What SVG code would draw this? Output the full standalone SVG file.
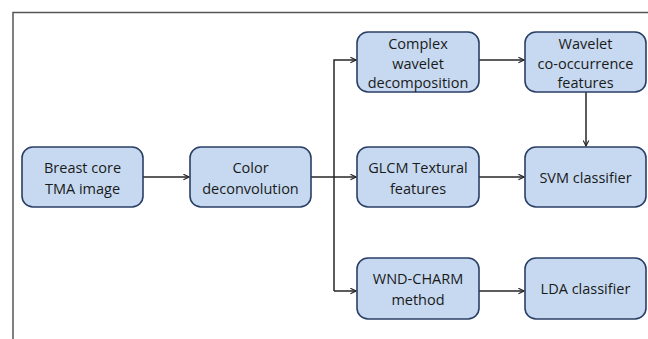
<svg xmlns="http://www.w3.org/2000/svg" width="648" height="339" viewBox="0 0 648 339">
  <style>
    .box { fill: #c6d9f0; stroke: #2a3f66; stroke-width: 1.6; }
    .lbl { font-family: "Open Sans", "Liberation Sans", sans-serif; font-size: 14.5px; fill: #1a1a1a; text-anchor: middle; }
    .wire { fill: none; stroke: #262626; stroke-width: 1.5; }
    .frame { fill: none; stroke: #555555; stroke-width: 1.5; }
  </style>
  <defs>
    <marker id="arr" viewBox="0 0 10 10" refX="9" refY="5" markerWidth="7" markerHeight="7" markerUnits="userSpaceOnUse" orient="auto">
      <path d="M1,1 L9,5 L1,9" fill="none" stroke="#262626" stroke-width="1.6"/>
    </marker>
  </defs>
  <rect width="648" height="339" fill="#ffffff"/>
  <!-- outer frame (top and left edges) -->
  <path class="frame" d="M13,339 V12.5 H648"/>

  <g id="connectors">
    <path class="wire" d="M143,177 H189" marker-end="url(#arr)"/>
    <path class="wire" d="M311,177 H356" marker-end="url(#arr)"/>
    <path class="wire" d="M334,291 V60 H356" marker-end="url(#arr)"/>
    <path class="wire" d="M334,291 H356" marker-end="url(#arr)"/>
    <path class="wire" d="M479,60 H524" marker-end="url(#arr)"/>
    <path class="wire" d="M586,92 V146" marker-end="url(#arr)"/>
    <path class="wire" d="M479,177 H524" marker-end="url(#arr)"/>
    <path class="wire" d="M479,291 H524" marker-end="url(#arr)"/>
  </g>

  <g id="breast-core">
    <rect class="box" x="22" y="147" width="121" height="60" rx="11"/>
    <text class="lbl" x="82.5" y="173">Breast core</text>
    <text class="lbl" x="82.5" y="194">TMA image</text>
  </g>
  <g id="color-deconvolution">
    <rect class="box" x="190" y="147" width="121" height="60" rx="11"/>
    <text class="lbl" x="250.5" y="173">Color</text>
    <text class="lbl" x="250.5" y="194">deconvolution</text>
  </g>
  <g id="complex-wavelet">
    <rect class="box" x="357" y="32" width="122" height="60" rx="11"/>
    <text class="lbl" x="418" y="49">Complex</text>
    <text class="lbl" x="418" y="68.5">wavelet</text>
    <text class="lbl" x="418" y="88">decomposition</text>
  </g>
  <g id="wavelet-cooccurrence">
    <rect class="box" x="525" y="32" width="121" height="60" rx="11"/>
    <text class="lbl" x="585.5" y="49">Wavelet</text>
    <text class="lbl" x="585.5" y="68.5">co-occurrence</text>
    <text class="lbl" x="585.5" y="88">features</text>
  </g>
  <g id="glcm">
    <rect class="box" x="357" y="147" width="122" height="60" rx="11"/>
    <text class="lbl" x="418" y="173">GLCM Textural</text>
    <text class="lbl" x="418" y="194">features</text>
  </g>
  <g id="svm">
    <rect class="box" x="525" y="147" width="121" height="60" rx="11"/>
    <text class="lbl" x="585.5" y="183">SVM classifier</text>
  </g>
  <g id="wnd-charm">
    <rect class="box" x="357" y="258" width="122" height="61" rx="11"/>
    <text class="lbl" x="418" y="284">WND-CHARM</text>
    <text class="lbl" x="418" y="305">method</text>
  </g>
  <g id="lda">
    <rect class="box" x="525" y="258" width="121" height="61" rx="11"/>
    <text class="lbl" x="585.5" y="294">LDA classifier</text>
  </g>
</svg>
